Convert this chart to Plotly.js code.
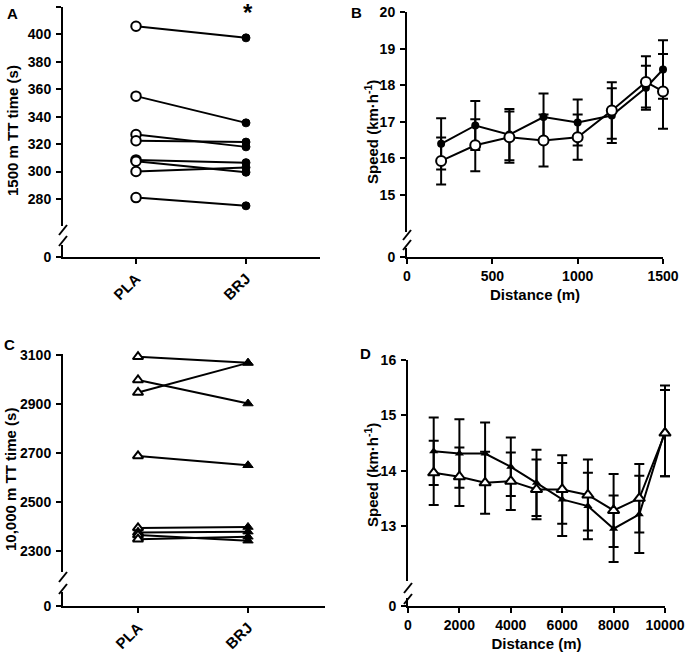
<!DOCTYPE html>
<html>
<head>
<meta charset="utf-8">
<script src="https://cdn.plot.ly/plotly-3.0.1.min.js"></script>
<style>html,body{margin:0;padding:0;background:#fff;}#chart{width:685px;height:655px;}</style>
</head>
<body>
<div id="chart"></div>
<script>
// ---------- data ----------
const conditions = ['PLA', 'BRJ'];
const pla1500 = [406, 355, 327, 322.5, 308.5, 307.5, 300, 281];
const brj1500 = [397.5, 335.5, 318, 321.5, 306.5, 299.5, 303, 275];
const tt1500Ticks = [280, 300, 320, 340, 360, 380, 400, 420];

const dist1500 = [200, 400, 600, 800, 1000, 1200, 1400, 1500];
const plaSpeed1500 = [15.93, 16.36, 16.58, 16.49, 16.58, 17.31, 18.09, 17.83];
const plaSD1500 = [0.64, 0.71, 0.70, 0.71, 0.62, 0.77, 0.70, 1.02];
const brjSpeed1500 = [16.40, 16.90, 16.65, 17.13, 16.98, 17.17, 17.93, 18.43];
const brjSD1500 = [0.70, 0.67, 0.70, 0.64, 0.63, 0.75, 0.60, 0.80];
const speed1500Ticks = [15, 16, 17, 18, 19, 20];
const dist1500Ticks = [0, 500, 1000, 1500];

const pla10k = [3093, 2998, 2947, 2688, 2394, 2375, 2365, 2348];
const brj10k = [3068, 2902, 3068, 2650, 2398, 2379, 2342, 2358];
const tt10kTicks = [2300, 2500, 2700, 2900, 3100];

const dist10k = [1000, 2000, 3000, 4000, 5000, 6000, 7000, 8000, 9000, 10000];
const plaSpeed10k = [13.96, 13.89, 13.78, 13.81, 13.66, 13.66, 13.56, 13.28, 13.50, 14.68];
const plaSD10k = [0.58, 0.53, 0.56, 0.52, 0.54, 0.62, 0.64, 0.66, 0.62, 0.78];
const brjSpeed10k = [14.35, 14.31, 14.31, 14.07, 13.78, 13.48, 13.36, 12.95, 13.21, 14.72];
const brjSD10k = [0.61, 0.62, 0.56, 0.53, 0.60, 0.66, 0.60, 0.60, 0.70, 0.82];
const speed10kTicks = [13, 14, 15, 16];
const dist10kTicks = [0, 2000, 4000, 6000, 8000, 10000];
const zeroTick = [0];

// ---------- helpers ----------
const W = 685, H = 655;
const fx = px => px / W;
const fy = py => 1 - py / H;
const FONT = 'Liberation Sans, Arial, sans-serif';
const tickFont = {family: FONT, size: 14, color: '#000', weight: 'bold'};
const catFont = {family: FONT, size: 15, color: '#000', weight: 'bold'};

function yAxis(top, bottom, range, ticks, anchor) {
  return {
    domain: [fy(bottom), fy(top)], range: range, anchor: anchor,
    tickvals: ticks, ticktext: ticks.map(String),
    showline: true, linewidth: 2, linecolor: '#000',
    ticks: 'outside', ticklen: 5, tickwidth: 2, tickcolor: '#000',
    showgrid: false, zeroline: false, tickfont: tickFont, ticklabelstandoff: 2,
    fixedrange: true
  };
}
function xAxis(left, right, range, anchor, extra) {
  return Object.assign({
    domain: [fx(left), fx(right)], range: range, anchor: anchor,
    showline: true, linewidth: 2, linecolor: '#000',
    ticks: 'outside', ticklen: 5, tickwidth: 2, tickcolor: '#000',
    showgrid: false, zeroline: false, tickfont: tickFont, fixedrange: true
  }, extra || {});
}
// hidden data axis with the same scale as a visible axis but a wider clip box,
// so the error bars of the last point are not cut at the axis end
function dataAxis(left, right, extRight, range, anchor) {
  const r1 = range[0] + (range[1] - range[0]) * (extRight - left) / (right - left);
  return {domain: [fx(left), fx(extRight)], range: [range[0], r1], anchor: anchor,
    visible: false, showgrid: false, zeroline: false, fixedrange: true};
}

const traces = [];
// empty traces so every lower (zero) axis segment exists as a subplot
[['x', 'y2'], ['x2', 'y4'], ['x3', 'y6'], ['x4', 'y8']].forEach(p => {
  traces.push({x: [], y: [], xaxis: p[0], yaxis: p[1], mode: 'markers', showlegend: false, hoverinfo: 'skip'});
});

// Panel A lines
for (let i = 0; i < pla1500.length; i++) {
  traces.push({x: conditions, y: [pla1500[i], brj1500[i]], xaxis: 'x', yaxis: 'y',
    mode: 'lines', line: {color: '#000', width: 2}, showlegend: false, hoverinfo: 'skip'});
}
traces.push({x: pla1500.map(() => conditions[0]), y: pla1500, xaxis: 'x', yaxis: 'y', mode: 'markers', cliponaxis: false,
  marker: {symbol: 'circle', size: 9.5, color: '#fff', line: {color: '#000', width: 2}}, showlegend: false});
traces.push({x: brj1500.map(() => conditions[1]), y: brj1500, xaxis: 'x', yaxis: 'y', mode: 'markers', cliponaxis: false,
  marker: {symbol: 'circle', size: 8, color: '#000', line: {color: '#000', width: 1}}, showlegend: false});

// Panel B
traces.push({x: dist1500, y: brjSpeed1500, xaxis: 'x5', yaxis: 'y3', mode: 'lines+markers', cliponaxis: false,
  line: {color: '#000', width: 2},
  marker: {symbol: 'circle', size: 8, color: '#000'},
  error_y: {type: 'data', array: brjSD1500, visible: true, color: '#000', thickness: 2, width: 5},
  showlegend: false});
traces.push({x: dist1500, y: plaSpeed1500, xaxis: 'x5', yaxis: 'y3', mode: 'lines+markers', cliponaxis: false,
  line: {color: '#000', width: 2},
  marker: {symbol: 'circle', size: 10, color: '#fff', line: {color: '#000', width: 2}},
  error_y: {type: 'data', array: plaSD1500, visible: true, color: '#000', thickness: 2, width: 5},
  showlegend: false});

// Panel C lines
for (let i = 0; i < pla10k.length; i++) {
  traces.push({x: conditions, y: [pla10k[i], brj10k[i]], xaxis: 'x3', yaxis: 'y5',
    mode: 'lines', line: {color: '#000', width: 2}, showlegend: false, hoverinfo: 'skip'});
}
traces.push({x: pla10k.map(() => conditions[0]), y: pla10k, xaxis: 'x3', yaxis: 'y5', mode: 'markers', cliponaxis: false,
  marker: {symbol: 'triangle-up', size: 9, color: '#fff', line: {color: '#000', width: 2}}, showlegend: false});
traces.push({x: brj10k.map(() => conditions[1]), y: brj10k, xaxis: 'x3', yaxis: 'y5', mode: 'markers', cliponaxis: false,
  marker: {symbol: 'triangle-up', size: 9, color: '#000', line: {color: '#000', width: 1}}, showlegend: false});

// Panel D
traces.push({x: dist10k, y: brjSpeed10k, xaxis: 'x6', yaxis: 'y7', mode: 'lines+markers', cliponaxis: false,
  line: {color: '#000', width: 2},
  marker: {symbol: 'triangle-up', size: 8, color: '#000'},
  error_y: {type: 'data', array: brjSD10k, visible: true, color: '#000', thickness: 2, width: 5},
  showlegend: false});
traces.push({x: dist10k, y: plaSpeed10k, xaxis: 'x6', yaxis: 'y7', mode: 'lines+markers', cliponaxis: false,
  line: {color: '#000', width: 2},
  marker: {symbol: 'triangle-up', size: 10, color: '#fff', line: {color: '#000', width: 2}},
  error_y: {type: 'data', array: plaSD10k, visible: true, color: '#000', thickness: 2, width: 5},
  showlegend: false});

// break marks on y axes
function slash(cx, cy) {
  return {type: 'line', xref: 'paper', yref: 'paper',
    x0: fx(cx - 4), y0: fy(cy + 5), x1: fx(cx + 4), y1: fy(cy - 5),
    line: {color: '#000', width: 2}};
}
const shapes = [
  slash(63, 230), slash(63, 241),
  slash(407, 235), slash(407, 245),
  slash(63, 577), slash(63, 589),
  slash(408, 588), slash(408, 599)
];

function label(text, px, py, size, angle) {
  return {text: text, xref: 'paper', yref: 'paper', x: fx(px), y: fy(py),
    xanchor: 'center', yanchor: 'middle', showarrow: false, textangle: angle || 0,
    font: {family: FONT, size: size, color: '#000', weight: 'bold'}};
}
const annotations = [
  label('A', 12, 13, 15), label('B', 356, 12, 15), label('C', 9, 344, 15), label('D', 365, 354, 15),
  label('1500 m TT time (s)', 13, 131, 15, -90),
  label('Speed (km·h<sup>-1</sup>)', 371, 132, 15, -90),
  label('10,000 m TT time (s)', 10, 480, 15, -90),
  label('Speed (km·h<sup>-1</sup>)', 371, 475, 15, -90),
  label('*', 248, 12, 24)
];

const xTitle = {text: 'Distance (m)', font: {family: FONT, size: 15, color: '#000', weight: 'bold'}, standoff: 7};

const layout = {
  width: W, height: H, margin: {l: 0, r: 0, t: 0, b: 0},
  paper_bgcolor: '#fff', plot_bgcolor: 'rgba(0,0,0,0)', showlegend: false,
  font: {family: FONT, color: '#000'},
  xaxis: xAxis(63, 320, [-0.664, 1.673], 'y2', {type: 'category', tickangle: -45, tickfont: catFont}),
  yaxis: yAxis(7, 226.4, [260, 420], tt1500Ticks, 'x'),
  yaxis2: yAxis(245, 257, [0, 10], zeroTick, 'x'),
  xaxis2: xAxis(407, 663, [0, 1500], 'y4', {tickvals: dist1500Ticks, ticktext: dist1500Ticks.map(String), title: xTitle}),
  yaxis3: yAxis(12, 231.6, [14, 20], speed1500Ticks, 'x2'),
  yaxis4: yAxis(248, 257, [0, 10], zeroTick, 'x2'),
  xaxis5: dataAxis(407, 663, 678, [0, 1500], 'y3'),
  xaxis3: xAxis(63, 325, [-0.682, 1.70], 'y6', {type: 'category', tickangle: -45, tickfont: catFont}),
  yaxis5: yAxis(353.8, 571.8, [2215, 3105], tt10kTicks, 'x3'),
  yaxis6: yAxis(592, 606, [0, 10], zeroTick, 'x3'),
  xaxis4: xAxis(408, 665, [0, 10000], 'y8', {tickvals: dist10kTicks, ticktext: dist10kTicks.map(String), title: xTitle}),
  yaxis7: yAxis(360, 581.3, [12, 16], speed10kTicks, 'x4'),
  yaxis8: yAxis(598, 606, [0, 10], zeroTick, 'x4'),
  xaxis6: dataAxis(408, 665, 680, [0, 10000], 'y7'),
  shapes: shapes,
  annotations: annotations
};

Plotly.newPlot('chart', traces, layout, {displayModeBar: false, staticPlot: true});
</script>
</body>
</html>
